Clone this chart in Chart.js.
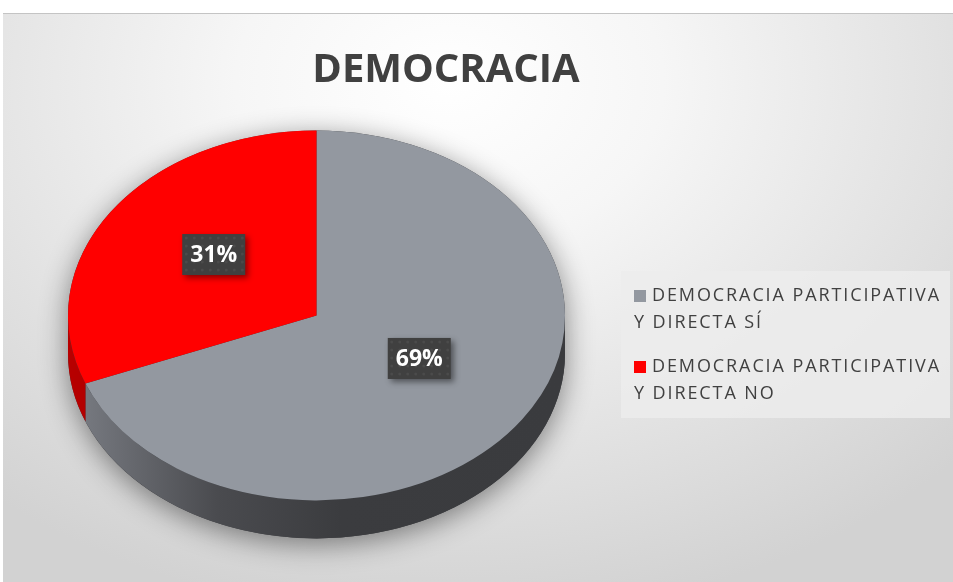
<!DOCTYPE html>
<html>
<head>
<meta charset="utf-8">
<script src="https://cdn.jsdelivr.net/npm/chart.js@4.4.1/dist/chart.umd.min.js"></script>
<style>
  html, body { margin: 0; padding: 0; background: #fff; }
  body { width: 953px; height: 582px; position: relative; overflow: hidden; font-family: 'Open Sans', sans-serif; }
  #frame {
    position: absolute; left: 3px; top: 13px; width: 950px; height: 569px;
    border-top: 1px solid #c4c4c4; box-sizing: border-box;
    background: radial-gradient(ellipse 75% 95% at 47% 12%, #ffffff 0%, #f6f6f6 30%, #e4e4e4 65%, #d2d2d2 100%);
  }
  #title {
    position: absolute; left: 0; width: 886px; top: 25px; text-align: center;
    font-weight: bold; font-size: 40px; color: #404040;
  }
  #legend {
    position: absolute; left: 618px; top: 257px; width: 329px; height: 147px;
    background: rgba(236, 236, 236, 0.85); color: #404040;
    font-size: 18px; letter-spacing: 1.9px; line-height: 27px;
  }
  .item { position: absolute; left: 13px; white-space: nowrap; }
  .sw { display: inline-block; width: 12px; height: 12px; margin-right: 6px; vertical-align: -1px; }
</style>
</head>
<body>
<div id="frame">
  <canvas id="pieChart" width="950" height="568"></canvas>
  <div id="title">DEMOCRACIA</div>
  <div id="legend"></div>
</div>
<script>
const categories = ['DEMOCRACIA PARTICIPATIVA Y DIRECTA SÍ', 'DEMOCRACIA PARTICIPATIVA Y DIRECTA NO'];
const legendLines = [['DEMOCRACIA PARTICIPATIVA', 'Y DIRECTA SÍ'], ['DEMOCRACIA PARTICIPATIVA', 'Y DIRECTA NO']];
const values = [69, 31];
const topColors = ['#9398a0', '#ff0000'];
const sideColors = [['#7b7e85', '#4a4b4f', '#3b3c3f', '#3a3b3e'], ['#b80000', '#8a0000', '#700000', '#700000']];

const tilt = 0.744;   // vertical squash of the pie top
const depth = 38;     // thickness of the pie in px
const labelLift = 9;

// html legend
const legendEl = document.getElementById('legend');
legendLines.forEach((lines, i) => {
    const div = document.createElement('div');
    div.className = 'item';
    div.style.top = (10 + i * 71) + 'px';
    div.innerHTML = '<span class="sw" style="background:' + topColors[i] + '"></span>' + lines[0] + '<br>' + lines[1];
    legendEl.appendChild(div);
});

function squash(ctx, arc) {
    ctx.translate(arc.x, arc.y);
    ctx.scale(1, tilt);
    ctx.translate(-arc.x, -arc.y);
}

const pie3d = {
    id: 'pie3d',
    beforeDatasetsDraw(chart) {
        const ctx = chart.ctx;
        const arcs = chart.getDatasetMeta(0).data;
        const a0 = arcs[0];
        const cx = a0.x, cy = a0.y, r = a0.outerRadius;
        const d = depth / tilt;
        ctx.save();
        squash(ctx, a0);
        // drop shadow under the whole body
        ctx.save();
        ctx.shadowColor = 'rgba(0,0,0,0.45)';
        ctx.shadowBlur = 28;
        ctx.shadowOffsetY = 6;
        ctx.beginPath();
        ctx.arc(cx, cy + d, r, 0, Math.PI);
        ctx.arc(cx, cy, r, Math.PI, Math.PI * 2);
        ctx.closePath();
        ctx.fillStyle = '#3a3b3e';
        ctx.fill();
        ctx.restore();
        // side walls, front half only
        arcs.forEach((arc, i) => {
            let s = arc.startAngle, e = arc.endAngle;
            const segs = [[s, e], [s - Math.PI * 2, e - Math.PI * 2]];
            segs.forEach(([ss, ee]) => {
                const lo = Math.max(ss, 0), hi = Math.min(ee, Math.PI);
                if (hi <= lo) return;
                const g = ctx.createLinearGradient(cx - r, 0, cx + r, 0);
                const c = sideColors[i];
                g.addColorStop(0, c[0]);
                g.addColorStop(0.3, c[1]);
                g.addColorStop(0.55, c[2]);
                g.addColorStop(1, c[3]);
                ctx.beginPath();
                ctx.arc(cx, cy + d, r, lo, hi);
                ctx.arc(cx, cy, r, hi, lo, true);
                ctx.closePath();
                ctx.fillStyle = g;
                ctx.fill();
            });
        });
        // keep the squash for the top face drawn by chart.js
    },
    afterDatasetsDraw(chart) {
        const ctx = chart.ctx;
        ctx.restore();
        const arcs = chart.getDatasetMeta(0).data;
        const total = values.reduce((a, b) => a + b, 0);
        arcs.forEach((arc, i) => {
            const mid = (arc.startAngle + arc.endAngle) / 2;
            const rr = arc.outerRadius * 0.5;
            const x = arc.x + Math.cos(mid) * rr;
            const y = arc.y + Math.sin(mid) * rr * tilt - labelLift;
            const txt = Math.round(values[i] / total * 100) + '%';
            const w = 63, h = 41;
            ctx.save();
            ctx.shadowColor = 'rgba(0,0,0,0.45)';
            ctx.shadowBlur = 6;
            ctx.shadowOffsetX = 3;
            ctx.shadowOffsetY = 3;
            ctx.fillStyle = '#404040';
            ctx.fillRect(x - w / 2, y - h / 2, w, h);
            ctx.restore();
            // dotted texture of the label box
            ctx.save();
            ctx.fillStyle = 'rgba(255,255,255,0.06)';
            for (let px = x - w / 2 + 4; px < x + w / 2; px += 8) {
                for (let py = y - h / 2 + 4; py < y + h / 2; py += 8) {
                    ctx.beginPath();
                    ctx.arc(px, py, 1.5, 0, Math.PI * 2);
                    ctx.fill();
                }
            }
            ctx.fillStyle = '#ffffff';
            ctx.font = 'bold 23px "Open Sans", sans-serif';
            ctx.textAlign = 'center';
            ctx.textBaseline = 'middle';
            ctx.fillText(txt, x, y + 1);
            ctx.restore();
        });
    }
};

const ctx = document.getElementById('pieChart').getContext('2d');
const chart = new Chart(ctx, {
    type: 'pie',
    data: {
        labels: categories,
        datasets: [{
            data: values,
            backgroundColor: topColors,
            borderWidth: 0,
            hoverOffset: 0
        }]
    },
    options: {
        responsive: false,
        animation: false,
        events: [],
        layout: {
            padding: { left: 65, right: 388, top: 53, bottom: 18 }
        },
        plugins: {
            legend: { display: false },
            tooltip: { enabled: false },
            title: { display: false }
        }
    },
    plugins: [pie3d]
});
</script>
</body>
</html>
